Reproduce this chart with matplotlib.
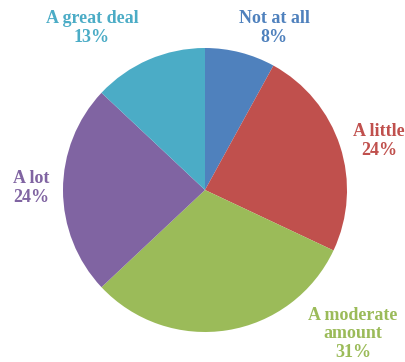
import matplotlib.pyplot as plt

# Daten
labels = ['Not at all', 'A little', 'A moderate\namount', 'A lot', 'A great deal']
values = [8, 24, 31, 24, 13]
colors = ['#4F81BD', '#C0504D', '#9BBB59', '#8064A2', '#4BACC6']

# Label-Positionen (Pixel im Bild)
label_px = [(274, 28), (379, 141), (353, 334), (31, 188), (92, 28)]

W, H = 406, 362
cx, cy, r = 205, 190, 142

fig = plt.figure(figsize=(W / 100, H / 100), dpi=100)
ax = fig.add_axes([0, 0, 1, 1])
ax.pie(values, colors=colors, startangle=90, counterclock=False,
       radius=1, center=(0, 0), wedgeprops=dict(linewidth=0))
ax.set_xlim(-cx / r, (W - cx) / r)
ax.set_ylim(-(H - cy) / r, cy / r)
ax.set_aspect('auto')
ax.axis('off')

for lab, v, c, (px, py) in zip(labels, values, colors, label_px):
    ax.text((px - cx) / r, (cy - py) / r, f'{lab}\n{v}%', color=c,
            ha='center', va='center', fontsize=13, fontweight='bold',
            family='Liberation Serif', linespacing=1.12)

fig.savefig('out.png', dpi=100)
